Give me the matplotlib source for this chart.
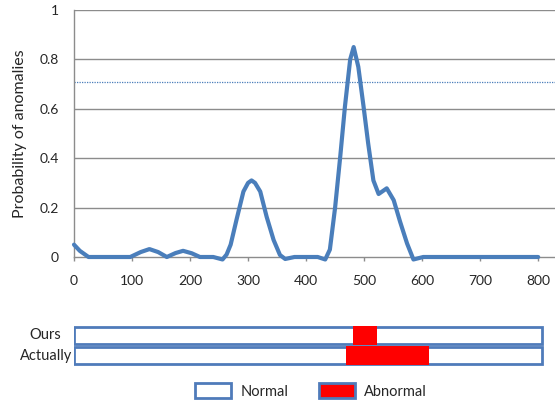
import matplotlib.pyplot as plt
from matplotlib.patches import Patch

plt.rcParams['font.family'] = ['Lato', 'DejaVu Sans']

# anomaly probability curve
t = [0, 10, 25, 60, 97, 115, 130, 145, 160, 175, 188, 203, 217, 240, 256,
     263, 270, 280, 292, 300, 306, 312, 321, 332, 344, 355, 364, 380, 400,
     420, 433, 441, 450, 459, 467, 476, 482, 490, 499, 507, 516, 525, 539,
     551, 562, 574, 585, 602, 700, 800]
prob = [0.05, 0.025, 0, 0, 0, 0.02, 0.032, 0.02, 0, 0.016, 0.025, 0.015, 0, 0, -0.01,
        0.01, 0.05, 0.15, 0.265, 0.3, 0.31, 0.3, 0.265, 0.163, 0.069, 0.008, -0.008, 0, 0,
        0, -0.01, 0.03, 0.2, 0.41, 0.61, 0.8, 0.85, 0.77, 0.61, 0.46, 0.31, 0.255, 0.278,
        0.23, 0.143, 0.055, -0.01, 0, 0, 0]
threshold = 0.71
xticks = [0, 100, 200, 300, 400, 500, 600, 700, 800]
yticks = [0, 0.2, 0.4, 0.6, 0.8, 1]
ytick_labels = ['0', '0.2', '0.4', '0.6', '0.8', '1']

# detection strips
rows = ['Ours', 'Actually']
strip_len = 806
abnormal = [(480, 523), (469, 611)]

blue = '#4A7EBB'
edge_blue = '#4F7BBA'
grid_gray = '#8C8C8C'
text_col = '#262626'

fig = plt.figure(figsize=(5.55, 4.04), dpi=100)

ax = fig.add_axes([74 / 555, 147 / 404, 481 / 555, 247 / 404])
ax.set_xlim(0, 829)
ax.set_ylim(0, 1)
for y in yticks[1:]:
    ax.axhline(y, color=grid_gray, lw=1.0, zorder=1)
ax.axhline(threshold, color=blue, lw=0.9, ls=(0, (1, 1)), zorder=2)
ax.plot(t, prob, color=blue, lw=3.0, solid_joinstyle='round',
        solid_capstyle='round', clip_on=False, zorder=3)

ax.set_xticks(xticks)
ax.set_xticklabels([str(v) for v in xticks])
ax.set_yticks(yticks)
ax.set_yticklabels(ytick_labels)
ax.tick_params(axis='y', length=0, pad=11, labelsize=10, labelcolor=text_col)
ax.tick_params(axis='x', length=3, width=1, color=grid_gray, pad=10,
               labelsize=10, labelcolor=text_col)
for s in ['top', 'right']:
    ax.spines[s].set_visible(False)
for s in ['left', 'bottom']:
    ax.spines[s].set_color(grid_gray)
    ax.spines[s].set_linewidth(1.0)
ax.set_ylabel('Probability of anomalies', fontsize=11.5, color=text_col, labelpad=9)

# strips
ax2 = fig.add_axes([74 / 555, 37 / 404, 481 / 555, 43 / 404])
ax2.set_xlim(0, 829)
ax2.set_ylim(1.55, -0.55)
ax2.axis('off')
for i, name in enumerate(rows):
    ax2.barh(i, strip_len, left=0, height=0.82, color='white',
             edgecolor=edge_blue, linewidth=2.0, zorder=1)
    a, b = abnormal[i]
    ax2.barh(i, b - a, left=a, height=0.92, color='#FF0000', zorder=2)
    ax2.text(-0.059, i, name, transform=ax2.get_yaxis_transform(),
             ha='center', va='center', fontsize=10.5, color=text_col)

handles = [Patch(facecolor='white', edgecolor=edge_blue, linewidth=2.0),
           Patch(facecolor='#FF0000', edgecolor=edge_blue, linewidth=2.0)]
fig.legend(handles, ['Normal', 'Abnormal'], loc='center', bbox_to_anchor=(0.56, 0.032),
           ncol=2, frameon=False, fontsize=10.5, handlelength=2.5, handleheight=1.15,
           handletextpad=0.6, columnspacing=2.1, labelcolor=text_col)

fig.savefig('out.png', dpi=100)
